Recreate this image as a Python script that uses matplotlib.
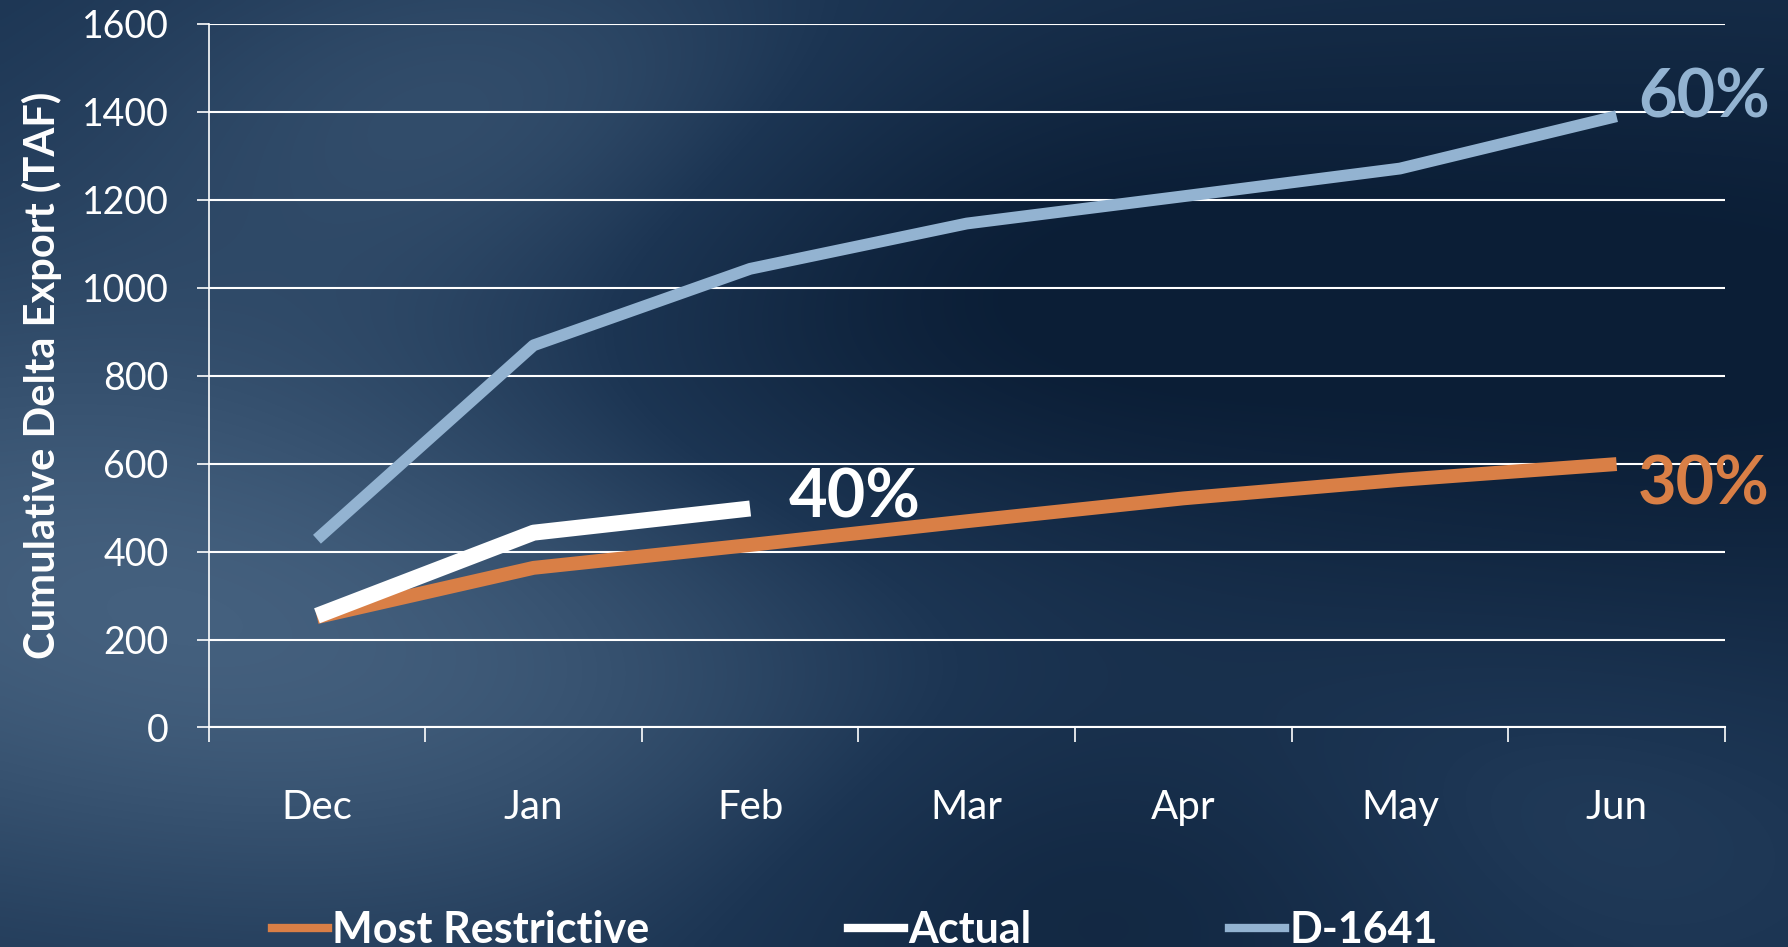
import numpy as np
import matplotlib
matplotlib.use('Agg')
import matplotlib.pyplot as plt
from matplotlib.lines import Line2D
from matplotlib.colors import LinearSegmentedColormap

plt.rcParams['font.family'] = ['Lato', 'DejaVu Sans']

# data
months = ['Dec', 'Jan', 'Feb', 'Mar', 'Apr', 'May', 'Jun']
most_restrictive = [251, 363, 415, 469, 521, 563, 599]
actual = [254, 443, 498]
d1641 = [428, 869, 1043, 1146, 1208, 1271, 1390]

orange = '#d97f46'
blue = '#93b3d1'
white = '#ffffff'

fig = plt.figure(figsize=(17.88, 9.47), dpi=100)

# background: smooth dark blue shading
bg = fig.add_axes([0, 0, 1, 1], zorder=-10)
xx, yy = np.meshgrid(np.linspace(0, 1, 400), np.linspace(0, 1, 220))


def bump(cx, cy, s):
    return np.exp(-((xx - cx) ** 2 + (yy - cy) ** 2) / (2 * s ** 2))


field = (0.45 + 0.45 * bump(0.0, 0.6, 0.25) + 0.35 * bump(0.3, 0.12, 0.16)
         + 0.25 * bump(0.3, 0.75, 0.2) - 0.4 * bump(0.55, 0.3, 0.18)
         - 0.45 * bump(0.98, 0.35, 0.25) - 0.3 * bump(0.62, 0.95, 0.15)
         + 0.2 * bump(0.85, 0.85, 0.15))
field = np.clip(field, 0, 1)
cmap = LinearSegmentedColormap.from_list('bg', ['#0b1e36', '#1c3553', '#44607e'])
bg.imshow(field, cmap=cmap, aspect='auto', extent=[0, 1, 1, 0], interpolation='bicubic')
bg.set_xlim(0, 1)
bg.set_ylim(1, 0)
bg.axis('off')

ax = fig.add_axes([0.1167, 0.2318, 0.848, 0.743])
ax.patch.set_alpha(0)

x = np.arange(len(months))
ax.plot(x, most_restrictive, color=orange, lw=10, solid_capstyle='butt', zorder=3)
ax.plot(x[:len(actual)], actual, color=white, lw=11.5, solid_capstyle='butt', zorder=4)
ax.plot(x, d1641, color=blue, lw=8.5, solid_capstyle='butt', zorder=3)

ax.set_xlim(-0.5, len(months) - 0.5)
ax.set_ylim(0, 1600)
ax.set_yticks(np.arange(0, 1601, 200))
ax.grid(axis='y', color='white', lw=1.5)
ax.set_axisbelow(True)

ax.set_xticks(np.arange(-0.5, len(months), 1))
ax.set_xticklabels([])
ax.set_xticks(x, minor=True)
ax.set_xticklabels(months, minor=True)
ax.tick_params(axis='x', which='major', length=11, width=1.2, color='white', direction='out')
ax.tick_params(axis='x', which='minor', length=0, pad=44, labelsize=29, labelcolor='white')
ax.tick_params(axis='y', length=9, width=1.2, color='white', pad=20, labelsize=27, labelcolor='white')

for side in ['top', 'right']:
    ax.spines[side].set_visible(False)
ax.spines['left'].set_color('white')
ax.spines['left'].set_linewidth(1.2)
ax.spines['bottom'].set_color('white')
ax.spines['bottom'].set_linewidth(1.5)

ax.set_ylabel('Cumulative Delta Export (TAF)', fontsize=30, fontweight='bold', color='white', labelpad=14)

ax.text(6.1, 1430, '60%', color=blue, fontsize=48, fontweight='bold', va='center', ha='left', clip_on=False)
ax.text(6.1, 551, '30%', color=orange, fontsize=48, fontweight='bold', va='center', ha='left', clip_on=False)
ax.text(2.18, 520, '40%', color=white, fontsize=48, fontweight='bold', va='center', ha='left', clip_on=False)

handles = [Line2D([], [], color=orange, lw=6),
           Line2D([], [], color=white, lw=6),
           Line2D([], [], color=blue, lw=6)]
leg = fig.legend(handles, ['Most Restrictive', 'Actual', 'D-1641'], ncol=3,
                 loc='center left', bbox_to_anchor=(272 / 1788, 1 - 930 / 947),
                 frameon=False, handlelength=1.3, handletextpad=0.1,
                 columnspacing=4.6, borderpad=0, borderaxespad=0,
                 prop={'size': 31, 'weight': 'bold'})
for t in leg.get_texts():
    t.set_color('white')

fig.savefig('out.png', dpi=100)
